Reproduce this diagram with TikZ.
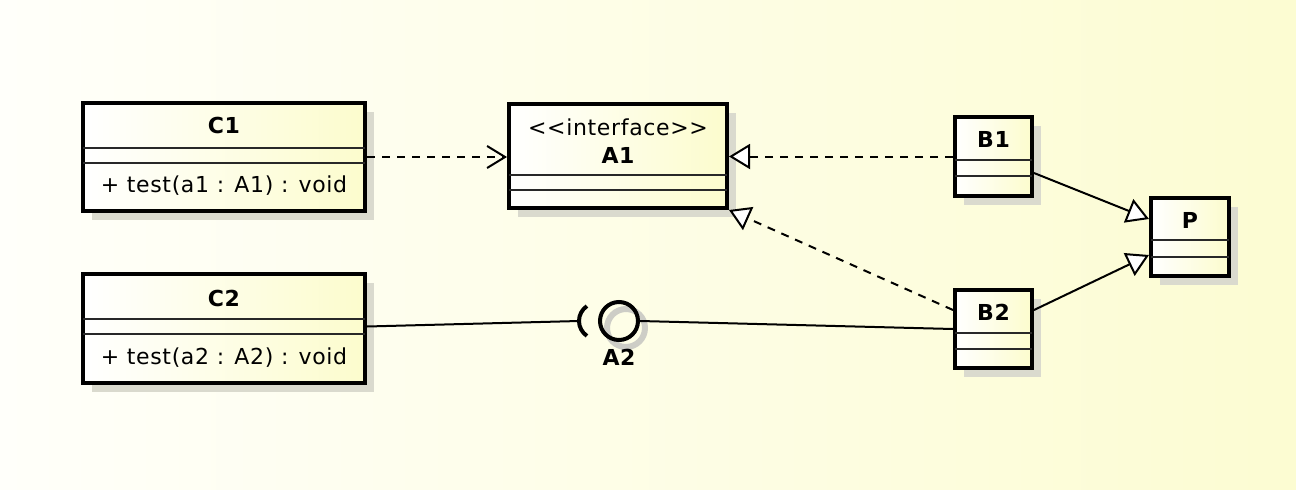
\documentclass[tikz,border=0pt]{standalone}
\usepackage{fontspec}
\setmainfont{DejaVu Sans}
\newfontfamily\umlfont[LetterSpace=3]{DejaVu Sans}
\usetikzlibrary{arrows.meta,shadows,calc}
\definecolor{bgL}{RGB}{255,255,250}
\definecolor{bgR}{RGB}{252,252,210}
\definecolor{boxR}{RGB}{252,252,205}
\definecolor{shd}{RGB}{218,218,206}
\definecolor{sepc}{RGB}{40,40,40}
\definecolor{ringc}{RGB}{205,205,198}
\tikzset{
  cls/.style={draw=black, line width=4pt, left color=white, right color=boxR,
    drop shadow={shadow xshift=9pt, shadow yshift=-9pt, fill=shd, opacity=1},
    inner sep=0pt, rectangle},
  sepl/.style={draw=sepc, line width=2pt},
  txt/.style={font=\umlfont\fontsize{22}{26}\selectfont, inner sep=0pt, anchor=base},
  ttl/.style={font=\umlfont\fontsize{22}{26}\selectfont\bfseries, inner sep=0pt, anchor=base},
  dep/.style={line width=2pt, dash pattern=on 8pt off 7pt,
    -{Straight Barb[length=18pt,width=22pt,line width=2pt]}},
  real/.style={line width=2pt, dash pattern=on 8pt off 7pt,
    -{Triangle[length=21pt,width=25pt,fill=white,line width=2pt]}},
  gen/.style={line width=2pt,
    -{Triangle[length=22pt,width=25pt,fill=white,line width=2pt]}},
  assoc/.style={line width=2pt}
}
\begin{document}
\begin{tikzpicture}[x=1pt,y=-1pt]
\useasboundingbox (0,0) rectangle (1296,490);
\shade[left color=bgL,right color=bgR] (0,0) rectangle (1296,490);

% classes
\node[cls, minimum width=282pt, minimum height=108pt] (C1) at (224,157) {};
\node[cls, minimum width=282pt, minimum height=109pt] (C2) at (224,328.5) {};
\node[cls, minimum width=218pt, minimum height=104pt] (A1) at (618,156) {};
\node[cls, minimum width=77pt, minimum height=79pt] (B1) at (993.5,156.5) {};
\node[cls, minimum width=77pt, minimum height=78pt] (B2) at (993.5,329) {};
\node[cls, minimum width=78pt, minimum height=78pt] (P) at (1190,237) {};

% separators
\foreach \n/\a/\b in {C1/46.5/61.5, C2/46.5/61.5, A1/73/88, B1/44.5/61, B2/44.5/60.5, P/44/61}{
  \draw[sepl] ($(\n.north west)+(2,\a)$) -- ($(\n.north east)+(-2,\a)$);
  \draw[sepl] ($(\n.north west)+(2,\b)$) -- ($(\n.north east)+(-2,\b)$);
}

% texts
\node[ttl] (C1t) at ($(C1.north)+(0,32)$) {C1};
\node[txt] (C1m) at ($(C1.north)+(0,91)$) {+ test(a1 : A1) : void};
\node[ttl] (C2t) at ($(C2.north)+(0,34)$) {C2};
\node[txt] (C2m) at ($(C2.north)+(0,92)$) {+ test(a2 : A2) : void};
\node[txt] (A1s) at ($(A1.north)+(0,33)$) {<<interface>>};
\node[ttl] (A1t) at ($(A1.north)+(0,61)$) {A1};
\node[ttl] (B1t) at ($(B1.north)+(0,32)$) {B1};
\node[ttl] (B2t) at ($(B2.north)+(0,32)$) {B2};
\node[ttl] (Pt) at ($(P.north)+(0,32)$) {P};

% lollipop A2
\draw[ringc, line width=6pt] (626,328) circle[radius=19];
\node[circle, draw=black, line width=4pt, minimum size=38pt, inner sep=0pt] (A2) at (619,321) {};
\coordinate (sockL) at (579,321);
\draw[line width=4pt] (sockL) arc[start angle=180, end angle=124, radius=18];
\draw[line width=4pt] (sockL) arc[start angle=180, end angle=236, radius=18];
\node[ttl] (A2t) at ($(A2.south)+(0,23)$) {A2};

% connectors
\draw[dep] (C1.east) -- (C1.east -| A1.west);
\draw[real] (B1.west) -- (B1.west -| A1.east);
\draw[real] ($(B2.west)+(0,-19)$) -- (A1.south east);
\draw[gen] ($(B1.east)+(0,16.5)$) -- ($(P.west)+(0,-18)$);
\draw[gen] ($(B2.east)+(0,-19)$) -- ($(P.west)+(0,18)$);
\draw[assoc] ($(C2.east)+(0,-2)$) -- (sockL);
\draw[assoc] (A2.east) -- (B2.west);
\end{tikzpicture}
\end{document}
